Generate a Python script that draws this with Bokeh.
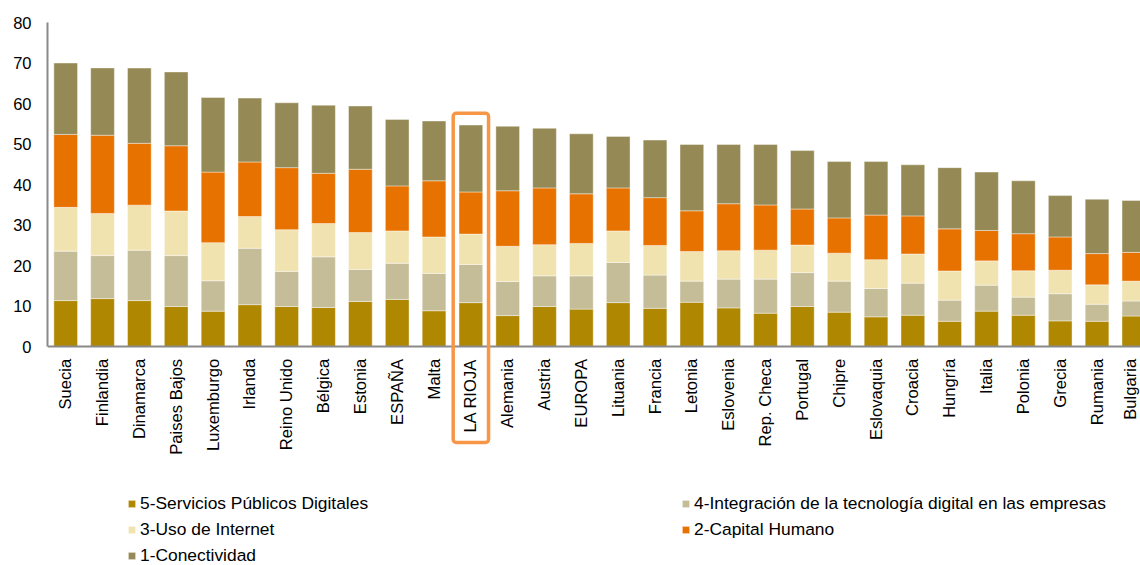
import math
from bokeh.plotting import figure
from bokeh.models import (ColumnDataSource, Range1d, FixedTicker, LinearAxis,
                          Legend, LegendItem, BoxAnnotation)
from bokeh.embed import file_html
from bokeh.resources import INLINE

categories = ["Suecia", "Finlandia", "Dinamarca", "Paises Bajos", "Luxemburgo",
              "Irlanda", "Reino Unido", "Bélgica", "Estonia", "ESPAÑA", "Malta",
              "LA RIOJA", "Alemania", "Austria", "EUROPA", "Lituania", "Francia",
              "Letonia", "Eslovenia", "Rep. Checa", "Portugal", "Chipre",
              "Eslovaquia", "Croacia", "Hungría", "Italia", "Polonia", "Grecia",
              "Rumania", "Bulgaria"]

servicios_publicos = [11.4, 11.9, 11.4, 9.95, 8.8, 10.4, 9.95, 9.7, 11.2, 11.7, 8.9,
                      10.9, 7.7, 9.95, 9.3, 10.9, 9.5, 11.0, 9.6, 8.3, 9.95, 8.55,
                      7.4, 7.8, 6.3, 8.8, 7.8, 6.4, 6.3, 7.6]
integracion_empresas = [12.2, 10.6, 12.45, 12.55, 7.5, 13.9, 8.65, 12.5, 7.9, 8.9, 9.2,
                        9.4, 8.4, 7.55, 8.2, 9.9, 8.2, 5.2, 7.1, 8.4, 8.35, 7.65,
                        7.0, 7.9, 5.2, 6.4, 4.45, 6.7, 4.2, 3.7]
uso_internet = [10.8, 10.4, 11.1, 11.0, 9.4, 7.85, 10.3, 8.2, 9.1, 8.0, 9.0,
                7.5, 8.7, 7.7, 8.0, 7.8, 7.3, 7.3, 7.0, 7.15, 6.8, 6.9,
                7.1, 7.2, 7.2, 6.0, 6.5, 5.8, 4.8, 4.9]
capital_humano = [18.0, 19.3, 15.25, 16.1, 17.4, 13.45, 15.3, 12.4, 15.6, 11.1, 13.85,
                  10.4, 13.7, 14.0, 12.25, 10.6, 11.8, 10.05, 11.6, 11.15, 8.9, 8.7,
                  11.0, 9.4, 10.4, 7.5, 9.15, 8.2, 7.7, 7.1]
conectividad = [17.6, 16.6, 18.55, 18.2, 18.4, 15.75, 16.0, 16.8, 15.6, 16.4, 14.75,
                16.5, 15.9, 14.7, 14.8, 12.7, 14.2, 16.35, 14.6, 14.9, 14.4, 13.9,
                13.2, 12.6, 15.1, 14.4, 13.05, 10.2, 13.4, 12.8]

series_names = ["5-Servicios Públicos Digitales",
                "4-Integración de la tecnología digital en las empresas",
                "3-Uso de Internet", "2-Capital Humano", "1-Conectividad"]
series_keys = ["s5", "s4", "s3", "s2", "s1"]
colors = ["#B08700", "#C5BD98", "#F1E3B0", "#E87200", "#958A55"]
y_ticks = [0, 10, 20, 30, 40, 50, 60, 70, 80]
highlight = "LA RIOJA"

FONT = "Liberation Sans"
positions = list(range(len(categories)))

source = ColumnDataSource(dict(
    x=positions, s5=servicios_publicos, s4=integracion_empresas,
    s3=uso_internet, s2=capital_humano, s1=conectividad))

p = figure(width=1140, height=565, output_backend="svg", toolbar_location=None,
           x_range=Range1d(-0.494, 29.18), y_range=Range1d(-53.94, 80),
           min_border_left=47, min_border_right=0, min_border_top=22,
           min_border_bottom=0, x_axis_type=None, y_axis_type=None)
p.outline_line_color = None
p.background_fill_color = "white"
p.border_fill_color = "white"

renderers = p.vbar_stack(series_keys, x="x", width=0.643, color=colors,
                         source=source, line_color="white", line_width=0.8,
                         line_alpha=0.5)

# y axis
yaxis = LinearAxis(ticker=FixedTicker(ticks=y_ticks), bounds=(0, 80))
yaxis.axis_line_color = "#898989"
yaxis.axis_line_width = 2
yaxis.major_tick_line_color = None
yaxis.major_tick_out = 0
yaxis.major_tick_in = 0
yaxis.minor_tick_line_color = None
yaxis.major_label_standoff = 16
yaxis.major_label_text_font = FONT
yaxis.major_label_text_font_size = "16.5px"
yaxis.major_label_text_color = "black"
p.add_layout(yaxis, "left")

# x axis placed at y = 0
xaxis = LinearAxis(ticker=FixedTicker(ticks=positions), fixed_location=0)
xaxis.major_label_overrides = {i: c for i, c in enumerate(categories)}
xaxis.major_label_orientation = math.pi / 2
xaxis.axis_line_color = "#898989"
xaxis.axis_line_width = 2
xaxis.major_tick_line_color = None
xaxis.major_tick_out = 0
xaxis.major_tick_in = 0
xaxis.minor_tick_line_color = None
xaxis.major_label_standoff = 12
xaxis.major_label_text_font = FONT
xaxis.major_label_text_font_size = "16.6px"
xaxis.major_label_text_color = "black"
p.add_layout(xaxis, "below")

p.ygrid.grid_line_color = "#d9d9d9"
p.ygrid.grid_line_width = 1.3
p.xgrid.visible = False

# highlight box around LA RIOJA
hi = categories.index(highlight)
box = BoxAnnotation(left=hi - 0.48, right=hi + 0.48, top=57.6, bottom=-23.6,
                    fill_alpha=0, line_color="#F79646", line_alpha=1.0,
                    line_width=3.5, border_radius=3)
p.add_layout(box)

def make_legend(idx, loc):
    lg = Legend(items=[LegendItem(label=series_names[i], renderers=[renderers[i]])
                       for i in idx], location=loc)
    lg.padding = 0
    lg.margin = 0
    lg.spacing = 5
    lg.label_height = 21
    lg.glyph_height = 9
    lg.glyph_width = 9
    lg.label_standoff = 4
    lg.background_fill_alpha = 0
    lg.border_line_alpha = 0
    lg.label_text_font = FONT
    lg.label_text_font_size = "17.4px"
    lg.label_text_color = "black"
    return lg

p.add_layout(make_legend([0, 2, 4], (80, -1)), "center")
p.add_layout(make_legend([1, 3], (634, 25)), "center")

open("out.html", "w").write(file_html(p, INLINE))
